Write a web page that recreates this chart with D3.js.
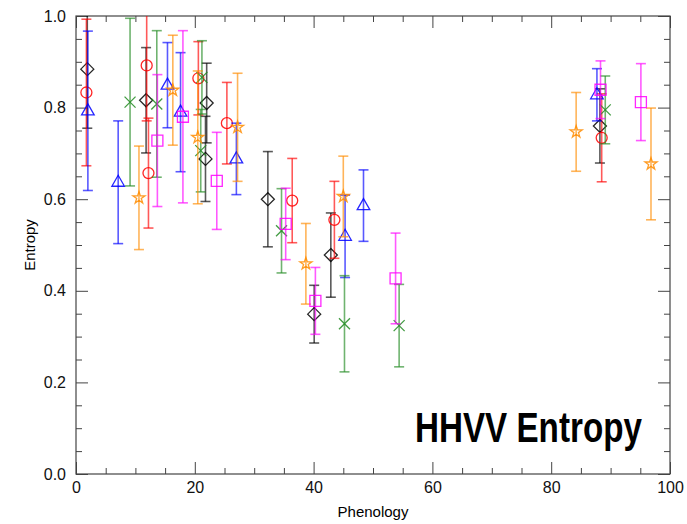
<!DOCTYPE html>
<html>
<head>
<meta charset="utf-8">
<script src="https://cdn.jsdelivr.net/npm/d3@7"></script>
<style>
  body { margin: 0; background: #fff; }
  svg { display: block; }
</style>
</head>
<body>
<svg id="chart"></svg>
<script>
// ---- data ----
const diamondX   = [1.9, 11.8, 22.0, 21.8, 32.3, 40.1, 42.9, 88.2];
const diamondY   = [0.884, 0.816, 0.810, 0.688, 0.600, 0.349, 0.478, 0.760];
const diamondErr = [0.129, 0.115, 0.087, 0.093, 0.104, 0.063, 0.092, 0.081];

const circleX   = [1.75, 11.9, 12.2, 20.6, 25.4, 36.4, 43.5, 88.5];
const circleY   = [0.833, 0.892, 0.657, 0.864, 0.766, 0.597, 0.555, 0.734];
const circleErr = [0.160, 0.121, 0.120, 0.080, 0.089, 0.092, 0.084, 0.096];

const triangleX   = [2.0, 7.1, 15.4, 17.6, 27.0, 45.3, 48.4, 87.7];
const triangleY   = [0.793, 0.637, 0.849, 0.790, 0.688, 0.519, 0.586, 0.828];
const triangleErr = [0.174, 0.134, 0.093, 0.130, 0.078, 0.090, 0.078, 0.057];

const crossX   = [9.1, 13.6, 21.2, 21.0, 34.6, 45.2, 54.4, 89.1];
const crossY   = [0.812, 0.808, 0.866, 0.706, 0.531, 0.328, 0.324, 0.795];
const crossErr = [0.183, 0.160, 0.080, 0.090, 0.092, 0.105, 0.090, 0.074];

const starX   = [10.6, 16.3, 20.5, 27.2, 38.7, 45.0, 84.2, 96.8];
const starY   = [0.603, 0.838, 0.735, 0.757, 0.459, 0.606, 0.747, 0.677];
const starErr = [0.113, 0.120, 0.145, 0.118, 0.088, 0.088, 0.086, 0.122];

const squareX   = [13.7, 18.0, 23.7, 35.3, 40.3, 53.8, 88.3, 95.1];
const squareY   = [0.728, 0.780, 0.640, 0.546, 0.378, 0.427, 0.839, 0.812];
const squareErr = [0.144, 0.188, 0.106, 0.078, 0.073, 0.099, 0.063, 0.084];

const xTicks = [0, 20, 40, 60, 80, 100];
const yTicks = [0.0, 0.2, 0.4, 0.6, 0.8, 1.0];

const series = [
    { name: "diamond",  color: "#000000", xs: diamondX,  ys: diamondY,  es: diamondErr },
    { name: "circle",   color: "#ff0000", xs: circleX,   ys: circleY,   es: circleErr },
    { name: "triangle", color: "#0000ff", xs: triangleX, ys: triangleY, es: triangleErr },
    { name: "cross",    color: "#228b22", xs: crossX,    ys: crossY,    es: crossErr },
    { name: "star",     color: "#ff8c00", xs: starX,     ys: starY,     es: starErr },
    { name: "square",   color: "#ff00ff", xs: squareX,   ys: squareY,   es: squareErr }
];

// ---- layout ----
const W = 687, H = 524;
const pLeft = 76, pRight = 670, pTop = 16, pBottom = 474;

const svg = d3.select("#chart").attr("width", W).attr("height", H);

const x = d3.scaleLinear().domain([0, 100]).range([pLeft, pRight]);
const y = d3.scaleLinear().domain([0, 1]).range([pBottom, pTop]);

svg.append("defs").append("clipPath").attr("id", "plotClip")
    .append("rect")
    .attr("x", pLeft).attr("y", pTop)
    .attr("width", pRight - pLeft).attr("height", pBottom - pTop);

// axes: ticks point inward, mirrored on top/right
const axisColor = "#444";
const minorX = d3.range(0, 101, 5).filter(v => v % 20 !== 0);
const minorY = d3.range(0, 1.0001, 0.05).filter(v => Math.abs(v * 5 - Math.round(v * 5)) > 1e-6);

function styleAxis(g) {
    g.select(".domain").remove();
    g.selectAll(".tick line").attr("stroke", axisColor);
    g.selectAll(".tick text").attr("fill", "#111")
        .style("font-family", "Liberation Sans, Arial, sans-serif")
        .style("font-size", "16px");
}

// bottom
svg.append("g").attr("transform", `translate(0,${pBottom})`)
    .call(d3.axisBottom(x).tickValues(xTicks).tickFormat(d3.format("d"))
        .tickSizeInner(-12).tickSizeOuter(0).tickPadding(8))
    .call(styleAxis);
svg.append("g").attr("transform", `translate(0,${pBottom})`)
    .call(d3.axisBottom(x).tickValues(minorX).tickFormat("").tickSizeInner(-6).tickSizeOuter(0))
    .call(styleAxis);
// top
svg.append("g").attr("transform", `translate(0,${pTop})`)
    .call(d3.axisTop(x).tickValues(xTicks).tickFormat("").tickSizeInner(-12).tickSizeOuter(0))
    .call(styleAxis);
svg.append("g").attr("transform", `translate(0,${pTop})`)
    .call(d3.axisTop(x).tickValues(minorX).tickFormat("").tickSizeInner(-6).tickSizeOuter(0))
    .call(styleAxis);
// left
svg.append("g").attr("transform", `translate(${pLeft},0)`)
    .call(d3.axisLeft(y).tickValues(yTicks).tickFormat(d3.format(".1f"))
        .tickSizeInner(-12).tickSizeOuter(0).tickPadding(10))
    .call(styleAxis);
svg.append("g").attr("transform", `translate(${pLeft},0)`)
    .call(d3.axisLeft(y).tickValues(minorY).tickFormat("").tickSizeInner(-6).tickSizeOuter(0))
    .call(styleAxis);
// right
svg.append("g").attr("transform", `translate(${pRight},0)`)
    .call(d3.axisRight(y).tickValues(yTicks).tickFormat("").tickSizeInner(-12).tickSizeOuter(0))
    .call(styleAxis);
svg.append("g").attr("transform", `translate(${pRight},0)`)
    .call(d3.axisRight(y).tickValues(minorY).tickFormat("").tickSizeInner(-6).tickSizeOuter(0))
    .call(styleAxis);

svg.append("rect")
    .attr("x", pLeft).attr("y", pTop)
    .attr("width", pRight - pLeft).attr("height", pBottom - pTop)
    .attr("fill", "none").attr("stroke", axisColor).attr("stroke-width", 1.2);

// axis titles
svg.append("text")
    .attr("x", (pLeft + pRight) / 2).attr("y", 517)
    .attr("text-anchor", "middle")
    .style("font-family", "Liberation Sans, Arial, sans-serif")
    .style("font-size", "15px")
    .text("Phenology");

svg.append("text")
    .attr("transform", `translate(35,${(pTop + pBottom) / 2}) rotate(-90)`)
    .attr("text-anchor", "middle")
    .style("font-family", "Liberation Sans, Arial, sans-serif")
    .style("font-size", "15px")
    .text("Entropy");

// marker shapes
function markerPath(kind) {
    switch (kind) {
        case "diamond":  return "M0,-6.5L6.5,0L0,6.5L-6.5,0Z";
        case "circle":   return d3.symbol(d3.symbolCircle, 95)();
        case "triangle": return "M0,-7L6.3,4L-6.3,4Z";
        case "cross":    return "M-5.5,-5.5L5.5,5.5M5.5,-5.5L-5.5,5.5";
        case "star":     return d3.symbol(d3.symbolStar, 45)();
        case "square":   return "M-5.5,-5.5H5.5V5.5H-5.5Z";
    }
}

const plot = svg.append("g").attr("clip-path", "url(#plotClip)");
const capW = 5;

series.forEach(s => {
    const pts = s.xs.map((xv, i) => ({ x: xv, y: s.ys[i], e: s.es[i] }));
    const g = plot.append("g").attr("class", s.name)
        .attr("stroke", s.color).attr("fill", "none");

    const bars = g.selectAll(".bar").data(pts).enter().append("g")
        .attr("class", "bar")
        .attr("stroke-opacity", 0.65)
        .attr("stroke-width", 1.6);

    bars.append("line")
        .attr("x1", d => x(d.x)).attr("x2", d => x(d.x))
        .attr("y1", d => y(d.y + d.e)).attr("y2", d => y(d.y - d.e));
    bars.append("line")
        .attr("x1", d => x(d.x) - capW).attr("x2", d => x(d.x) + capW)
        .attr("y1", d => y(d.y + d.e)).attr("y2", d => y(d.y + d.e));
    bars.append("line")
        .attr("x1", d => x(d.x) - capW).attr("x2", d => x(d.x) + capW)
        .attr("y1", d => y(d.y - d.e)).attr("y2", d => y(d.y - d.e));

    g.selectAll(".mark").data(pts).enter().append("path")
        .attr("class", "mark")
        .attr("d", markerPath(s.name))
        .attr("transform", d => `translate(${x(d.x)},${y(d.y)})`)
        .attr("stroke-width", 1.3)
        .attr("stroke-opacity", 0.85);
});

// big label inside the plot, squeezed horizontally like a condensed face
const label = svg.append("text")
    .attr("x", 0).attr("y", 0)
    .style("font-family", "'Liberation Sans', Arial, sans-serif")
    .style("font-weight", "bold")
    .style("font-size", "43px")
    .text("HHVV Entropy");
const labelLen = label.node().getComputedTextLength();
const squeeze = 227 / labelLen;
label.attr("transform", `translate(415,442) scale(${squeeze},1)`);
</script>
</body>
</html>
